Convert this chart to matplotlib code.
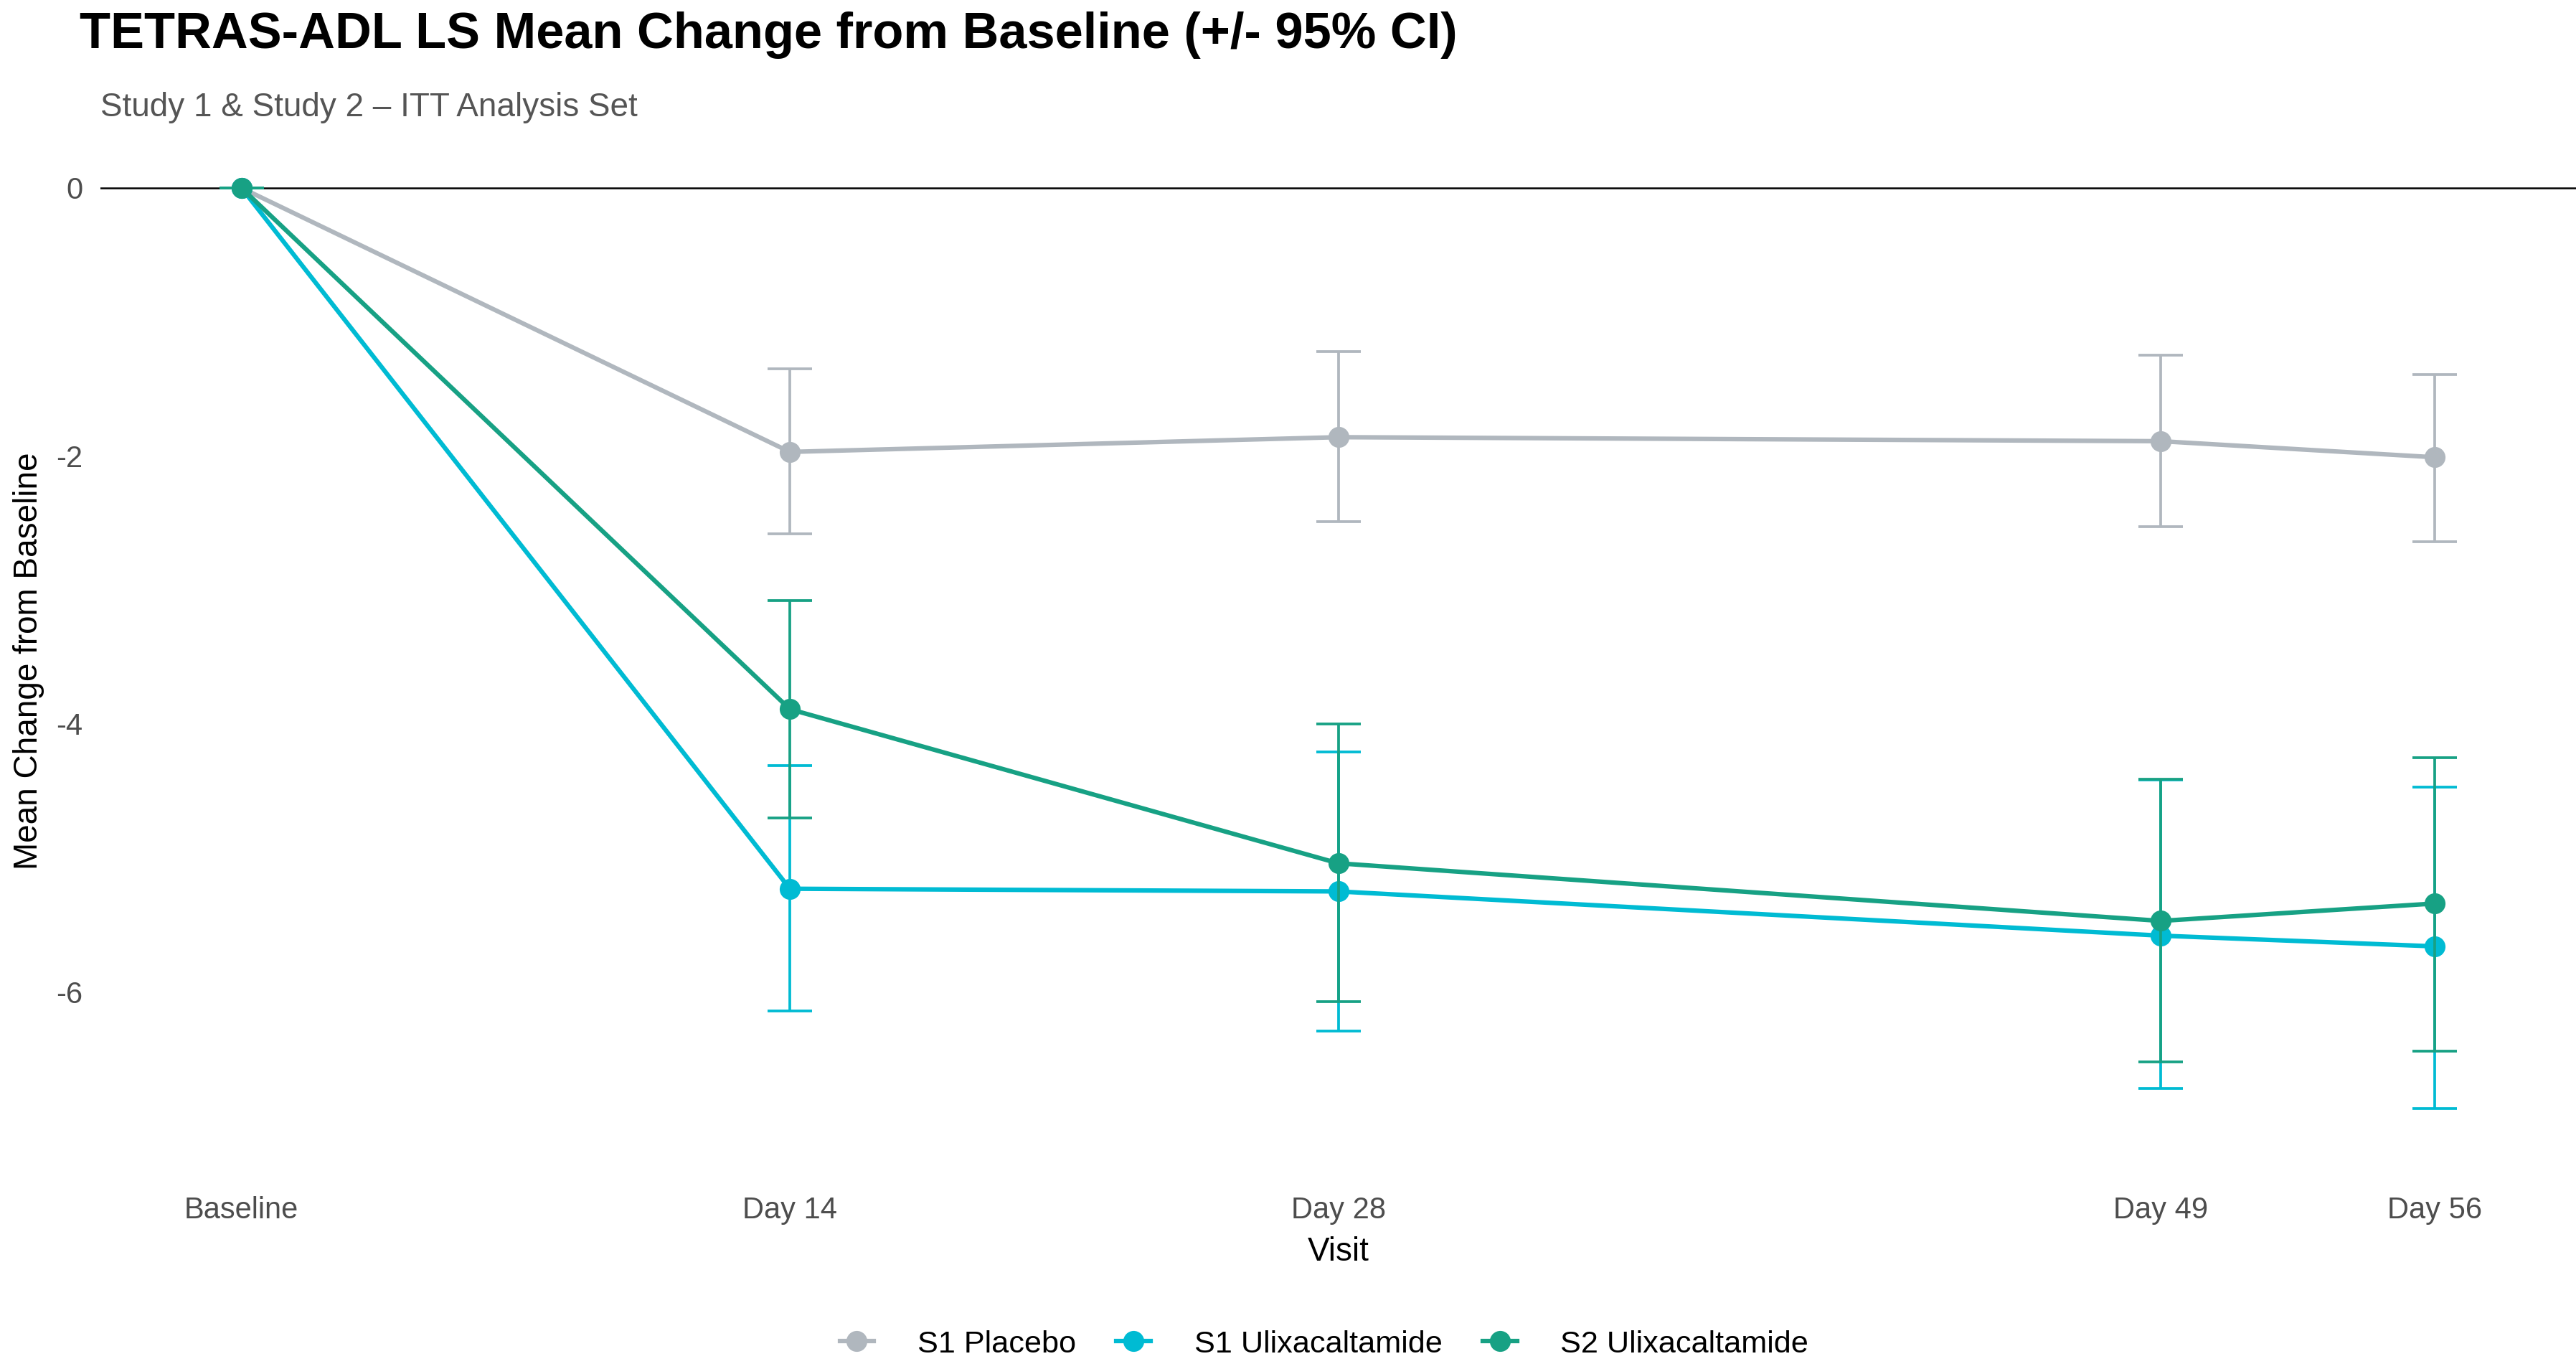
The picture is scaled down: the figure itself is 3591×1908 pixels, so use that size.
import matplotlib
matplotlib.use("Agg")
import matplotlib.pyplot as plt
from matplotlib.lines import Line2D

plt.rcParams['font.family'] = ['Liberation Sans', 'DejaVu Sans']

# visit days and labels
days = [0, 14, 28, 49, 56]
visit_labels = ["Baseline", "Day 14", "Day 28", "Day 49", "Day 56"]

# series: mean change and 95% CI
series_names = ["S1 Placebo", "S1 Ulixacaltamide", "S2 Ulixacaltamide"]
colors = ["#B0B7BE", "#00BBD3", "#17A184"]

placebo_mean = [0, -1.97, -1.86, -1.89, -2.01]
placebo_lo = [0, -2.58, -2.49, -2.53, -2.64]
placebo_hi = [0, -1.35, -1.22, -1.25, -1.39]

s1_mean = [0, -5.23, -5.25, -5.58, -5.66]
s1_lo = [0, -6.14, -6.29, -6.72, -6.87]
s1_hi = [0, -4.31, -4.21, -4.42, -4.47]

s2_mean = [0, -3.89, -5.04, -5.47, -5.34]
s2_lo = [0, -4.70, -6.07, -6.52, -6.44]
s2_hi = [0, -3.08, -4.00, -4.41, -4.25]

means = [placebo_mean, s1_mean, s2_mean]
los = [placebo_lo, s1_lo, s2_lo]
his = [placebo_hi, s1_hi, s2_hi]

fig = plt.figure(figsize=(11.97, 6.36), dpi=300)
ax = fig.add_axes([0.039, 0.157, 0.961, 0.739])

ax.axhline(0, color="black", lw=0.6, zorder=1)

for k in range(3):
    z = 2 + k * 3
    ax.plot(days, means[k], color=colors[k], lw=1.5, zorder=z)
    ax.plot(days, means[k], "o", color=colors[k], ms=7, mec="none", zorder=z + 1)
    yerr = [[m - l for m, l in zip(means[k], los[k])],
            [h - m for m, h in zip(means[k], his[k])]]
    ax.errorbar(days, means[k], yerr=yerr, fmt="none", ecolor=colors[k],
                elinewidth=0.9, capsize=7.5, capthick=0.9, zorder=z + 2)

ax.set_xlim(-3.6, 59.6)
ax.set_ylim(-7.21, 0.34)
ax.set_xticks(days)
ax.set_xticklabels(visit_labels)
ax.set_yticks([0, -2, -4, -6])
ax.set_yticklabels(["0", "-2", "-4", "-6"])
ax.tick_params(axis="both", length=0, labelsize=10, labelcolor="#4D4D4D")
ax.tick_params(axis="x", pad=14)
ax.tick_params(axis="y", pad=6)
for s in ax.spines.values():
    s.set_visible(False)

ax.set_xlabel("Visit", fontsize=11, labelpad=4)
fig.text(0.011, 0.517, "Mean Change from Baseline", rotation=90,
         fontsize=11, ha="center", va="center")

fig.text(0.031, 0.965, "TETRAS-ADL LS Mean Change from Baseline (+/- 95% CI)",
         fontsize=16.9, fontweight="bold", va="baseline")
fig.text(0.039, 0.915, "Study 1 & Study 2 \u2013 ITT Analysis Set",
         fontsize=11, color="#555555", va="baseline")

handles = [Line2D([0], [0], color=c, lw=1.5, marker="o", ms=7, mec="none")
           for c in colors]
fig.legend(handles, series_names, loc="center", bbox_to_anchor=(0.514, 0.018),
           ncol=3, frameon=False, fontsize=10.4, handlelength=1.1,
           columnspacing=1.3, handletextpad=1.4)

fig.savefig("out.png", dpi=300)
